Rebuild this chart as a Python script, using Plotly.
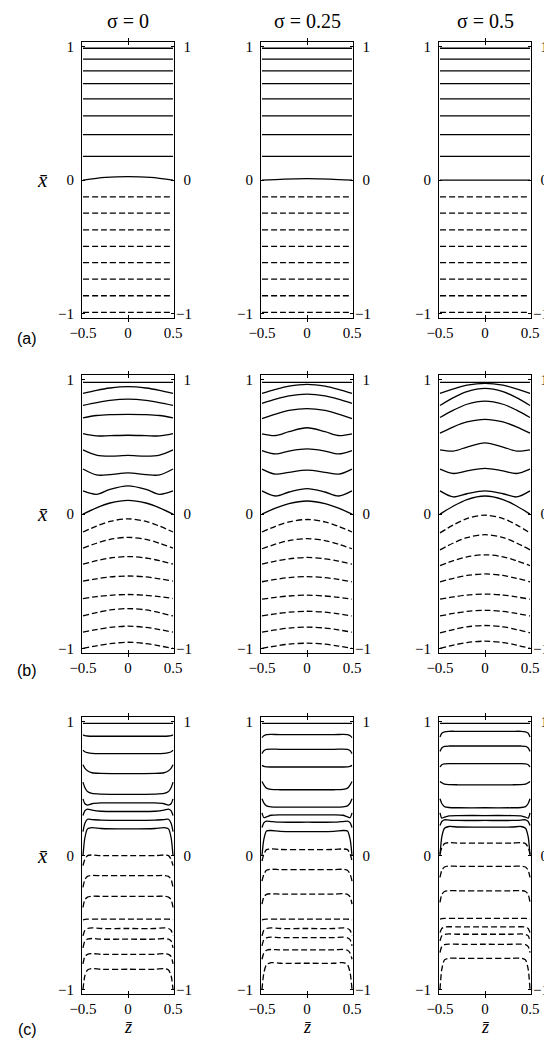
import plotly.graph_objects as go

# ---------------- data ----------------
SIGMA_LABELS = ["σ = 0", "σ = 0.25", "σ = 0.5"]
ROW_LABELS = ["(a)", "(b)", "(c)"]
X_TICKS = [-0.5, 0, 0.5]
X_TICKTEXT = ["−0.5", "0", "0.5"]
Y_TICKS = [-1, 0, 1]
Y_TICKTEXT = ["−1", "0", "1"]
N_SOLID = 9  # first 9 contour lines are solid, the rest dashed

# row (a): z sample positions and contour heights
Z_A = [-0.5, -0.25, 0, 0.25, 0.5]
A_S0 = [
    [0.990, 0.990, 0.990, 0.990, 0.990],
    [0.908, 0.908, 0.908, 0.908, 0.908],
    [0.820, 0.820, 0.820, 0.820, 0.820],
    [0.725, 0.725, 0.725, 0.725, 0.725],
    [0.610, 0.610, 0.610, 0.610, 0.610],
    [0.483, 0.483, 0.483, 0.483, 0.483],
    [0.341, 0.341, 0.341, 0.341, 0.341],
    [0.179, 0.179, 0.179, 0.179, 0.179],
    [0.000, 0.020, 0.026, 0.020, 0.000],
    [-0.126, -0.126, -0.126, -0.126, -0.126],
    [-0.248, -0.248, -0.248, -0.248, -0.248],
    [-0.373, -0.373, -0.373, -0.373, -0.373],
    [-0.498, -0.498, -0.498, -0.498, -0.498],
    [-0.620, -0.620, -0.620, -0.620, -0.620],
    [-0.743, -0.743, -0.743, -0.743, -0.743],
    [-0.868, -0.868, -0.868, -0.868, -0.868],
    [-0.993, -0.993, -0.993, -0.993, -0.993],
]
A_S25 = [
    [0.990, 0.990, 0.990, 0.990, 0.990],
    [0.908, 0.908, 0.908, 0.908, 0.908],
    [0.820, 0.820, 0.820, 0.820, 0.820],
    [0.725, 0.725, 0.725, 0.725, 0.725],
    [0.610, 0.610, 0.610, 0.610, 0.610],
    [0.483, 0.483, 0.483, 0.483, 0.483],
    [0.341, 0.341, 0.341, 0.341, 0.341],
    [0.179, 0.179, 0.179, 0.179, 0.179],
    [0.000, 0.008, 0.011, 0.008, 0.000],
    [-0.126, -0.126, -0.126, -0.126, -0.126],
    [-0.248, -0.248, -0.248, -0.248, -0.248],
    [-0.373, -0.373, -0.373, -0.373, -0.373],
    [-0.498, -0.498, -0.498, -0.498, -0.498],
    [-0.620, -0.620, -0.620, -0.620, -0.620],
    [-0.743, -0.743, -0.743, -0.743, -0.743],
    [-0.868, -0.868, -0.868, -0.868, -0.868],
    [-0.993, -0.993, -0.993, -0.993, -0.993],
]
A_S50 = [
    [0.990, 0.990, 0.990, 0.990, 0.990],
    [0.908, 0.908, 0.908, 0.908, 0.908],
    [0.820, 0.820, 0.820, 0.820, 0.820],
    [0.725, 0.725, 0.725, 0.725, 0.725],
    [0.610, 0.610, 0.610, 0.610, 0.610],
    [0.483, 0.483, 0.483, 0.483, 0.483],
    [0.341, 0.341, 0.341, 0.341, 0.341],
    [0.179, 0.179, 0.179, 0.179, 0.179],
    [0.000, 0.000, 0.000, 0.000, 0.000],
    [-0.126, -0.126, -0.126, -0.126, -0.126],
    [-0.248, -0.248, -0.248, -0.248, -0.248],
    [-0.373, -0.373, -0.373, -0.373, -0.373],
    [-0.498, -0.498, -0.498, -0.498, -0.498],
    [-0.620, -0.620, -0.620, -0.620, -0.620],
    [-0.743, -0.743, -0.743, -0.743, -0.743],
    [-0.868, -0.868, -0.868, -0.868, -0.868],
    [-0.993, -0.993, -0.993, -0.993, -0.993],
]

# row (b)
Z_B = [-0.5, -0.35, -0.2, 0, 0.2, 0.35, 0.5]
B_S0 = [
    [0.982, 0.982, 0.982, 0.982, 0.982, 0.982, 0.982],
    [0.900, 0.923, 0.940, 0.950, 0.940, 0.923, 0.900],
    [0.810, 0.831, 0.848, 0.857, 0.848, 0.831, 0.810],
    [0.717, 0.735, 0.742, 0.744, 0.742, 0.735, 0.717],
    [0.600, 0.583, 0.585, 0.588, 0.585, 0.583, 0.600],
    [0.479, 0.440, 0.432, 0.438, 0.432, 0.440, 0.479],
    [0.336, 0.292, 0.294, 0.307, 0.294, 0.292, 0.336],
    [0.173, 0.148, 0.185, 0.211, 0.185, 0.148, 0.173],
    [0.000, 0.047, 0.083, 0.103, 0.083, 0.047, 0.000],
    [-0.133, -0.089, -0.054, -0.035, -0.054, -0.089, -0.133],
    [-0.253, -0.217, -0.188, -0.173, -0.188, -0.217, -0.253],
    [-0.373, -0.347, -0.327, -0.316, -0.327, -0.347, -0.373],
    [-0.499, -0.482, -0.468, -0.461, -0.468, -0.482, -0.499],
    [-0.629, -0.615, -0.605, -0.599, -0.605, -0.615, -0.629],
    [-0.759, -0.734, -0.714, -0.704, -0.714, -0.734, -0.759],
    [-0.880, -0.860, -0.844, -0.835, -0.844, -0.860, -0.880],
    [-1.000, -0.982, -0.965, -0.955, -0.965, -0.982, -1.000],
]
B_S25 = [
    [0.982, 0.982, 0.982, 0.982, 0.982, 0.982, 0.982],
    [0.900, 0.930, 0.954, 0.967, 0.954, 0.930, 0.900],
    [0.825, 0.857, 0.882, 0.895, 0.882, 0.857, 0.825],
    [0.712, 0.746, 0.773, 0.787, 0.773, 0.746, 0.712],
    [0.599, 0.586, 0.615, 0.644, 0.615, 0.586, 0.599],
    [0.474, 0.449, 0.470, 0.486, 0.470, 0.449, 0.474],
    [0.336, 0.298, 0.312, 0.328, 0.312, 0.298, 0.336],
    [0.173, 0.135, 0.165, 0.190, 0.165, 0.135, 0.173],
    [0.000, 0.045, 0.079, 0.098, 0.079, 0.045, 0.000],
    [-0.133, -0.091, -0.058, -0.040, -0.058, -0.091, -0.133],
    [-0.258, -0.224, -0.197, -0.183, -0.197, -0.224, -0.258],
    [-0.373, -0.350, -0.333, -0.323, -0.333, -0.350, -0.373],
    [-0.504, -0.487, -0.473, -0.466, -0.473, -0.487, -0.504],
    [-0.634, -0.620, -0.610, -0.604, -0.610, -0.620, -0.634],
    [-0.759, -0.743, -0.731, -0.724, -0.731, -0.743, -0.759],
    [-0.880, -0.863, -0.849, -0.842, -0.849, -0.863, -0.880],
    [-1.000, -0.983, -0.969, -0.962, -0.969, -0.983, -1.000],
]
B_S50 = [
    [0.982, 0.982, 0.982, 0.982, 0.982, 0.982, 0.982],
    [0.900, 0.934, 0.961, 0.975, 0.961, 0.934, 0.900],
    [0.810, 0.868, 0.913, 0.937, 0.913, 0.868, 0.810],
    [0.720, 0.775, 0.819, 0.842, 0.819, 0.775, 0.720],
    [0.604, 0.651, 0.687, 0.707, 0.687, 0.651, 0.604],
    [0.479, 0.470, 0.500, 0.531, 0.500, 0.470, 0.479],
    [0.336, 0.303, 0.322, 0.341, 0.322, 0.303, 0.336],
    [0.173, 0.128, 0.152, 0.173, 0.152, 0.128, 0.173],
    [0.000, 0.061, 0.109, 0.135, 0.109, 0.061, 0.000],
    [-0.140, -0.080, -0.033, -0.008, -0.033, -0.080, -0.140],
    [-0.266, -0.215, -0.175, -0.153, -0.175, -0.215, -0.266],
    [-0.383, -0.347, -0.318, -0.303, -0.318, -0.347, -0.383],
    [-0.504, -0.478, -0.457, -0.446, -0.457, -0.478, -0.504],
    [-0.634, -0.617, -0.603, -0.596, -0.603, -0.617, -0.634],
    [-0.759, -0.740, -0.725, -0.717, -0.725, -0.740, -0.759],
    [-0.885, -0.860, -0.840, -0.830, -0.840, -0.860, -0.885],
    [-1.000, -0.976, -0.957, -0.947, -0.957, -0.976, -1.000],
]

# row (c)
Z_C = [-0.5, -0.48, -0.45, -0.4, -0.3, 0, 0.3, 0.4, 0.45, 0.48, 0.5]
C_S0 = [
    [0.990, 0.990, 0.990, 0.990, 0.990, 0.990, 0.990, 0.990, 0.990, 0.990, 0.990],
    [0.903, 0.898, 0.895, 0.893, 0.893, 0.893, 0.893, 0.893, 0.895, 0.898, 0.903],
    [0.788, 0.777, 0.770, 0.765, 0.763, 0.763, 0.763, 0.765, 0.770, 0.777, 0.788],
    [0.680, 0.655, 0.635, 0.620, 0.615, 0.613, 0.615, 0.620, 0.635, 0.655, 0.680],
    [0.550, 0.510, 0.480, 0.465, 0.460, 0.458, 0.460, 0.465, 0.480, 0.510, 0.550],
    [0.425, 0.390, 0.378, 0.388, 0.394, 0.395, 0.394, 0.388, 0.378, 0.390, 0.425],
    [0.300, 0.335, 0.348, 0.340, 0.332, 0.330, 0.332, 0.340, 0.348, 0.335, 0.300],
    [0.180, 0.240, 0.272, 0.270, 0.265, 0.263, 0.265, 0.270, 0.272, 0.240, 0.180],
    [0.000, 0.130, 0.200, 0.210, 0.203, 0.200, 0.203, 0.210, 0.200, 0.130, 0.000],
    [-0.075, -0.030, 0.000, 0.005, 0.000, 0.000, 0.000, 0.005, 0.000, -0.030, -0.075],
    [-0.238, -0.180, -0.155, -0.148, -0.150, -0.150, -0.150, -0.148, -0.155, -0.180, -0.238],
    [-0.388, -0.330, -0.310, -0.303, -0.305, -0.305, -0.305, -0.303, -0.310, -0.330, -0.388],
    [-0.480, -0.477, -0.475, -0.475, -0.475, -0.475, -0.475, -0.475, -0.475, -0.477, -0.480],
    [-0.600, -0.560, -0.545, -0.540, -0.545, -0.545, -0.545, -0.540, -0.545, -0.560, -0.600],
    [-0.690, -0.640, -0.625, -0.620, -0.625, -0.625, -0.625, -0.620, -0.625, -0.640, -0.690],
    [-0.810, -0.755, -0.738, -0.733, -0.738, -0.738, -0.738, -0.733, -0.738, -0.755, -0.810],
    [-1.000, -0.900, -0.855, -0.845, -0.850, -0.850, -0.850, -0.845, -0.855, -0.900, -1.000],
]
C_S25 = [
    [0.990, 0.990, 0.990, 0.990, 0.990, 0.990, 0.990, 0.990, 0.990, 0.990, 0.990],
    [0.883, 0.897, 0.905, 0.907, 0.905, 0.905, 0.905, 0.907, 0.905, 0.897, 0.883],
    [0.763, 0.785, 0.795, 0.797, 0.795, 0.795, 0.795, 0.797, 0.795, 0.785, 0.763],
    [0.675, 0.668, 0.664, 0.663, 0.663, 0.663, 0.663, 0.663, 0.664, 0.668, 0.675],
    [0.555, 0.530, 0.505, 0.495, 0.493, 0.493, 0.493, 0.495, 0.505, 0.530, 0.555],
    [0.425, 0.395, 0.372, 0.365, 0.363, 0.363, 0.363, 0.365, 0.372, 0.395, 0.425],
    [0.320, 0.285, 0.290, 0.302, 0.305, 0.305, 0.305, 0.302, 0.290, 0.285, 0.320],
    [0.210, 0.245, 0.258, 0.255, 0.250, 0.250, 0.250, 0.255, 0.258, 0.245, 0.210],
    [0.000, 0.120, 0.185, 0.188, 0.182, 0.180, 0.182, 0.188, 0.185, 0.120, 0.000],
    [-0.040, 0.010, 0.045, 0.050, 0.046, 0.045, 0.046, 0.050, 0.045, 0.010, -0.040],
    [-0.190, -0.140, -0.110, -0.102, -0.105, -0.105, -0.105, -0.102, -0.110, -0.140, -0.190],
    [-0.363, -0.310, -0.290, -0.285, -0.288, -0.288, -0.288, -0.285, -0.290, -0.310, -0.363],
    [-0.480, -0.477, -0.475, -0.475, -0.475, -0.475, -0.475, -0.475, -0.475, -0.477, -0.480],
    [-0.600, -0.560, -0.545, -0.540, -0.545, -0.545, -0.545, -0.540, -0.545, -0.560, -0.600],
    [-0.675, -0.630, -0.615, -0.610, -0.613, -0.613, -0.613, -0.610, -0.615, -0.630, -0.675],
    [-0.775, -0.730, -0.708, -0.702, -0.705, -0.705, -0.705, -0.702, -0.708, -0.730, -0.775],
    [-1.000, -0.880, -0.815, -0.800, -0.805, -0.805, -0.805, -0.800, -0.815, -0.880, -1.000],
]
C_S50 = [
    [0.990, 0.990, 0.990, 0.990, 0.990, 0.990, 0.990, 0.990, 0.990, 0.990, 0.990],
    [0.888, 0.915, 0.926, 0.930, 0.930, 0.930, 0.930, 0.930, 0.926, 0.915, 0.888],
    [0.780, 0.805, 0.817, 0.820, 0.820, 0.820, 0.820, 0.820, 0.817, 0.805, 0.780],
    [0.663, 0.680, 0.686, 0.688, 0.688, 0.688, 0.688, 0.688, 0.686, 0.680, 0.663],
    [0.555, 0.545, 0.535, 0.531, 0.530, 0.530, 0.530, 0.531, 0.535, 0.545, 0.555],
    [0.425, 0.390, 0.367, 0.360, 0.358, 0.358, 0.358, 0.360, 0.367, 0.390, 0.425],
    [0.320, 0.280, 0.288, 0.298, 0.300, 0.300, 0.300, 0.298, 0.288, 0.280, 0.320],
    [0.225, 0.255, 0.268, 0.266, 0.263, 0.263, 0.263, 0.266, 0.268, 0.255, 0.225],
    [0.000, 0.140, 0.205, 0.218, 0.214, 0.213, 0.214, 0.218, 0.205, 0.140, 0.000],
    [0.013, 0.060, 0.090, 0.097, 0.094, 0.093, 0.094, 0.097, 0.090, 0.060, 0.013],
    [-0.163, -0.110, -0.085, -0.078, -0.080, -0.080, -0.080, -0.078, -0.085, -0.110, -0.163],
    [-0.350, -0.290, -0.268, -0.262, -0.263, -0.263, -0.263, -0.262, -0.268, -0.290, -0.350],
    [-0.475, -0.472, -0.470, -0.470, -0.470, -0.470, -0.470, -0.470, -0.470, -0.472, -0.475],
    [-0.575, -0.545, -0.535, -0.532, -0.533, -0.533, -0.533, -0.532, -0.535, -0.545, -0.575],
    [-0.638, -0.600, -0.590, -0.586, -0.588, -0.588, -0.588, -0.586, -0.590, -0.600, -0.638],
    [-0.725, -0.680, -0.666, -0.662, -0.663, -0.663, -0.663, -0.662, -0.666, -0.680, -0.725],
    [-1.000, -0.850, -0.780, -0.767, -0.768, -0.768, -0.768, -0.767, -0.780, -0.850, -1.000],
]

PANELS = [
    (Z_A, A_S0), (Z_A, A_S25), (Z_A, A_S50),
    (Z_B, B_S0), (Z_B, B_S25), (Z_B, B_S50),
    (Z_C, C_S0), (Z_C, C_S25), (Z_C, C_S50),
]

# ---------------- layout geometry ----------------
# page pixel positions; the html body adds an 8px margin, so the figure is
# drawn 8px smaller and every position is shifted by that offset.
PAGE_W, PAGE_H = 552, 1040
OFF = 8
W, H = PAGE_W - OFF, PAGE_H - OFF
COL_PX = [(82, 174), (261, 353), (439, 531)]
ROW_PX = [(42, 318), (375, 653), (717, 994)]
XR = [-0.511, 0.511]
YR = [-1.035, 1.037]


def px_x(p):
    return (p - OFF) / W


def px_y(p):
    return 1 - (p - OFF) / H


SERIF = "Liberation Serif, Times New Roman, DejaVu Serif, serif"
SANS = "Liberation Sans, Arial, sans-serif"
TICKFONT = dict(family=SERIF, size=15, color="black")

fig = go.Figure()
layout = dict(
    template="none",
    width=W, height=H, autosize=False,
    margin=dict(l=0, r=0, t=0, b=0, pad=0, autoexpand=False),
    paper_bgcolor="white", plot_bgcolor="white",
    showlegend=False,
    font=dict(family=SERIF, color="black"),
)

for i, (zs, lines) in enumerate(PANELS):
    r, c = divmod(i, 3)
    k = i + 1
    kr = i + 10
    xd = [px_x(COL_PX[c][0]), px_x(COL_PX[c][1])]
    yd = [px_y(ROW_PX[r][1]), px_y(ROW_PX[r][0])]
    smooth = 0.6 if r == 2 else 0.9
    for j, vals in enumerate(lines):
        fig.add_trace(go.Scatter(
            x=zs, y=vals, mode="lines",
            line=dict(color="black", width=1.3,
                      dash="solid" if j < N_SOLID else "6px,3px",
                      shape="spline", smoothing=smooth),
            xaxis=f"x{k}", yaxis=f"y{k}", hoverinfo="skip", showlegend=False,
            cliponaxis=True,
        ))
    # empty trace to activate the right-hand label axis
    fig.add_trace(go.Scatter(x=[], y=[], xaxis=f"x{k}", yaxis=f"y{kr}",
                             showlegend=False, hoverinfo="skip"))
    layout[f"xaxis{k}"] = dict(
        domain=xd, range=XR, anchor=f"y{k}", automargin=False,
        showline=True, linecolor="black", linewidth=1, mirror="allticks",
        ticks="inside", ticklen=3, tickcolor="black", tickwidth=1,
        tickvals=X_TICKS, ticktext=X_TICKTEXT,
        tickfont=TICKFONT, showgrid=False, zeroline=False,
        ticklabelstandoff=1,
    )
    layout[f"yaxis{k}"] = dict(
        domain=yd, range=YR, anchor=f"x{k}", automargin=False,
        showline=True, linecolor="black", linewidth=1, mirror="allticks",
        ticks="inside", ticklen=3, tickcolor="black", tickwidth=1,
        tickvals=Y_TICKS, ticktext=Y_TICKTEXT,
        tickfont=TICKFONT, showgrid=False, zeroline=False,
        ticklabelstandoff=4,
    )
    layout[f"yaxis{kr}"] = dict(
        domain=yd, range=YR, anchor=f"x{k}", overlaying=f"y{k}", side="right",
        automargin=False,
        showline=False, ticks="", tickvals=Y_TICKS,
        ticktext=["−1", "\u20070", "\u20071"],
        tickfont=TICKFONT, showgrid=False, zeroline=False,
        ticklabelstandoff=1,
    )

ann = []
for c in range(3):
    xc = px_x((COL_PX[c][0] + COL_PX[c][1]) / 2)
    ann.append(dict(text=SIGMA_LABELS[c], x=xc, y=px_y(9), xref="paper", yref="paper",
                    showarrow=False, font=dict(family=SERIF, size=20, color="black"),
                    xanchor="center", yanchor="top", borderpad=0))
    ann.append(dict(text="<i>z\u0304</i>", x=xc, y=px_y(1027), xref="paper", yref="paper",
                    showarrow=False, font=dict(family=SERIF, size=18, color="black"),
                    xanchor="center", yanchor="middle"))
ROW_LAB_Y = [338, 670, 1029]
for r in range(3):
    y0 = ROW_PX[r][0] + (ROW_PX[r][1] - ROW_PX[r][0]) * (YR[1] - 0) / (YR[1] - YR[0])
    ann.append(dict(text="<i>x\u0304</i>", x=px_x(42), y=px_y(y0), xref="paper", yref="paper",
                    showarrow=False, font=dict(family=SERIF, size=21, color="black"),
                    xanchor="center", yanchor="middle"))
    ann.append(dict(text=ROW_LABELS[r], x=px_x(27), y=px_y(ROW_LAB_Y[r]), xref="paper", yref="paper",
                    showarrow=False, font=dict(family=SANS, size=16, color="black"),
                    xanchor="center", yanchor="middle"))
layout["annotations"] = ann
fig.update_layout(**layout)
fig.write_html("out.html")
